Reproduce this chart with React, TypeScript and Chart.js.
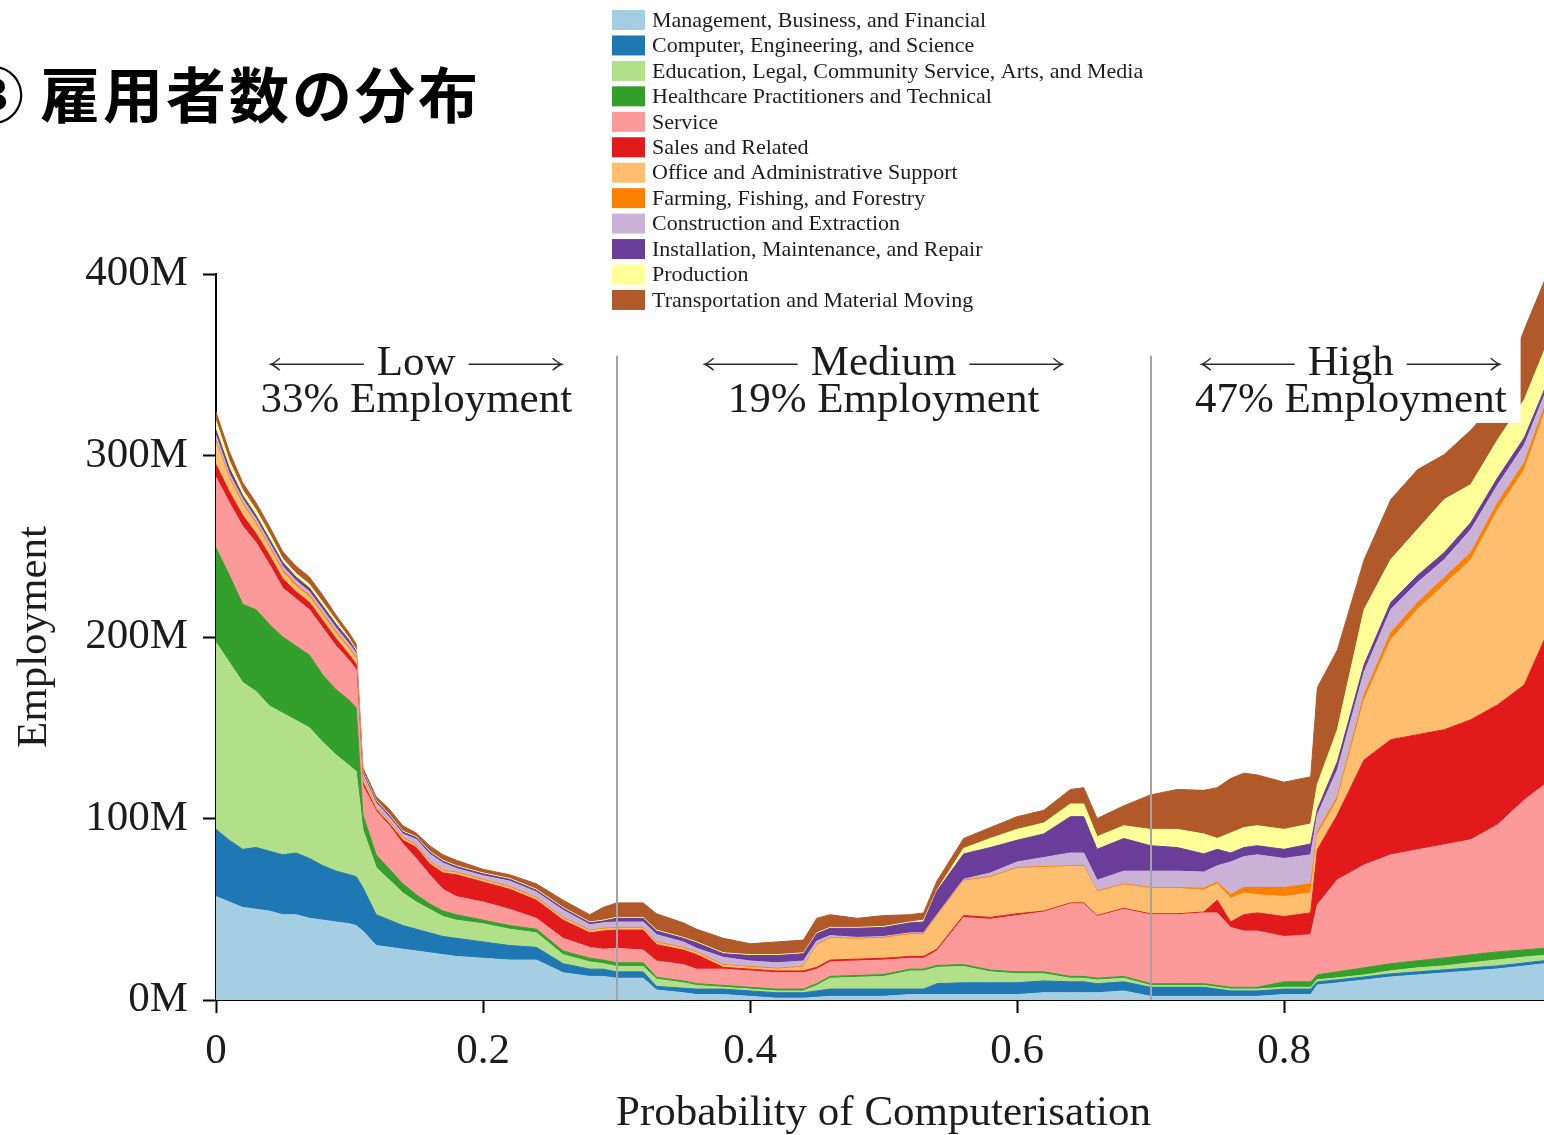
import React, { useEffect, useRef } from 'react';
import { Chart, registerables } from 'chart.js';

Chart.register(...registerables);

// ---------- data (employment in millions, by probability of computerisation) ----------
const PROB = [0, 0.01, 0.02, 0.03, 0.04, 0.05, 0.06, 0.07, 0.08, 0.09, 0.10, 0.105, 0.11, 0.12, 0.13, 0.14, 0.15, 0.16, 0.17, 0.18, 0.20, 0.22, 0.24, 0.26, 0.28, 0.29, 0.30, 0.32, 0.33, 0.35, 0.36, 0.38, 0.40, 0.42, 0.44, 0.45, 0.46, 0.48, 0.50, 0.52, 0.53, 0.54, 0.56, 0.58, 0.60, 0.62, 0.64, 0.65, 0.66, 0.68, 0.70, 0.72, 0.74, 0.75, 0.76, 0.77, 0.78, 0.80, 0.82, 0.825, 0.84, 0.86, 0.88, 0.90, 0.92, 0.94, 0.96, 0.98, 1.0];

const MANAGEMENT = [57, 54, 51, 50, 49, 47, 47, 45, 44, 43, 42, 41, 38, 30, 29, 28, 27, 26, 25, 24, 23, 22, 22, 15, 13, 13, 12, 12, 5.5, 4, 3, 3, 2, 1, 1, 1.5, 2, 2, 2, 3, 3, 3, 3, 3, 3, 4, 4, 4, 4, 5, 2, 2, 2, 2, 2, 2, 2, 3, 3, 8.3, 9.4, 11, 12.7, 13.8, 14.9, 16, 17.1, 18.7, 20.4];
const COMPUTER = [37, 34, 32, 34, 33, 33, 34, 33, 30, 28, 27, 27, 24, 17, 15, 13, 12, 11, 10, 10, 9, 8, 7, 5, 4, 4, 3.5, 3.5, 2, 2.5, 3, 3, 3, 3, 3, 3.5, 4, 4, 4, 3, 3, 6, 6.5, 6.5, 6.5, 6.5, 6, 6, 5, 5, 5, 5, 5, 4, 3, 3, 3, 3, 3, 1.7, 1.7, 1.7, 1.7, 1.7, 1.7, 1.7, 1.7, 1.7, 1.7];
const EDUCATION = [103, 98, 92, 86, 80, 78, 73, 72, 68, 64, 60, 58, 32, 26, 22, 18, 15, 13, 11, 10, 10, 9, 8, 5, 4, 3, 3, 3, 4, 3, 2, 1, 1, 1, 1, 3, 6, 6.5, 7, 10, 10, 9, 9, 6, 5, 4, 2, 2, 2, 2, 1, 1, 1, 1, 1, 1, 1, 1, 1, 1.1, 1.1, 1.1, 1.7, 2.2, 2.2, 2.8, 3.3, 3.3, 2.8];
const HEALTHCARE = [52, 48, 43, 45, 45, 42, 41, 40, 37, 36, 36, 35, 8, 7, 6, 5, 4, 3, 3, 3, 2, 2, 2, 2, 2, 2, 2, 2, 1, 1, 1, 1, 1, 1, 1, 1, 1, 1, 1, 1, 1, 1, 1, 1, 1, 1, 1, 1, 1, 1, 1, 1, 1, 1, 1, 1, 1, 3, 3, 2.8, 3.3, 3.9, 3.9, 3.9, 4.4, 4.4, 4.4, 3.9, 3.9];
const SERVICE = [39, 40, 43, 37, 33, 27, 26, 25, 26, 24, 22, 21, 16, 24, 24, 22, 20, 16, 12, 10, 10, 9, 6, 7, 6, 6, 8, 7, 9, 9, 8, 9, 9, 9, 9, 8, 8, 8, 8, 6, 6, 8, 26, 28, 31, 33, 40, 40, 34, 37, 38, 38, 39, 40, 33, 31, 31, 25, 26, 38.6, 50.7, 56.7, 60, 61.2, 62.3, 63.4, 70, 82.6, 92.6];
const SALES = [7, 6, 6, 5, 5, 5, 4, 4, 4, 4, 3, 3, 2, 1, 1, 2, 6, 6, 9, 12, 11, 11, 10, 10, 8, 10, 10, 11, 9, 8, 8, 1, 1, 1, 1, 1, 1, 1, 1, 1, 1, 1, 1, 1, 1, 0.5, 0.5, 0.5, 0.5, 0.5, 0.5, 0.5, 0.5, 7, 3, 9, 10, 11, 12, 30.3, 35.8, 57.9, 63.4, 63.4, 63.4, 66.1, 66.1, 63.4, 85.4];
const OFFICE = [12, 7, 6, 5, 4, 4, 3, 3, 3, 3, 3, 3, 2, 1, 1, 1, 1, 1, 1, 1, 1, 1, 1, 1, 1, 1, 1, 1, 1, 1, 1, 1, 1, 1, 2, 12, 12, 11, 11, 12, 12, 18, 19, 22, 25, 24, 20, 20, 13, 13, 14, 14, 12, 9, 13, 12, 10, 11, 11, 8.3, 8.3, 33, 55.1, 68.9, 79.9, 88.2, 107.4, 118.5, 127];
const FARMING = [1, 1, 1, 1, 1, 1, 1, 1, 1, 1, 1, 1, 0.5, 0.5, 0.5, 0.5, 0.5, 0.5, 0.5, 0.5, 0.5, 0.5, 0.5, 0.5, 0.5, 0.5, 0.5, 0.5, 0.5, 0.5, 0.5, 0.5, 0.5, 0.5, 0.5, 0.5, 0.5, 0.5, 0.5, 0.5, 0.5, 0.5, 0.5, 0.5, 0.5, 0.5, 0.5, 0.5, 0.5, 0.5, 0.5, 0.5, 1, 1, 2, 3, 4, 5, 5, 1.7, 1.7, 2.8, 3.9, 3.9, 3.9, 3.9, 3.9, 3.9, 2.8];
const CONSTRUCTION = [3, 2, 2, 2, 2, 2, 2, 2, 2, 2, 2, 2, 2, 2, 2, 2, 3, 4, 4, 2, 2, 3, 3, 4, 3, 3, 3, 3, 4, 3, 2, 4, 3, 3, 3, 2, 1, 0.5, 0.5, 0.5, 0.5, 0.5, 0.5, 2, 3, 5, 7, 7, 6, 7, 9, 9, 9, 9, 18, 17, 18, 16, 16, 9.4, 14.9, 12.7, 12.7, 11, 9.9, 12.7, 9.9, 9.9, 5.5];
const INSTALLATION = [3, 3, 2, 2, 2, 2, 2, 2, 2, 2, 2, 1, 1, 1, 1, 1, 1, 1, 1, 1, 1, 1, 1, 1, 1, 1, 2, 2, 2, 2, 3, 2, 3, 4, 4, 4, 4, 5, 5, 5.5, 6, 13, 14, 14, 12, 13, 20, 20, 17, 18, 14, 13, 10, 9, 5, 5, 5, 5, 6, 2.8, 4.4, 3.9, 3.9, 3.9, 3.9, 3.9, 3.9, 3.9, 2.8];
const PRODUCTION = [5, 4, 3, 3, 3, 2, 2, 2, 2, 2, 1, 1, 0.5, 0.5, 0.5, 0.5, 0.5, 0.5, 0.5, 0.5, 0.5, 0.5, 0.5, 0.5, 0.5, 0.5, 0.5, 0.5, 0.5, 0.5, 0.5, 0.5, 0.5, 0.5, 0.5, 0.5, 0.5, 0.5, 0.5, 0.5, 1, 0.5, 3, 5, 6, 6, 7, 7, 7, 7, 9, 10, 11, 6, 11, 11, 11, 11, 11, 13.8, 17.6, 30.3, 23.7, 25.3, 29.2, 20.9, 20.9, 20.9, 22];
const TRANSPORTATION = [5, 5, 4, 4, 4, 4, 4, 4, 4, 3, 3, 3, 2, 2, 3, 3, 2, 3, 3, 3, 2, 2, 3, 4, 4, 7, 8, 8, 9, 8, 7, 8, 6, 7, 7, 8, 7, 5, 6, 4, 4, 5, 5.5, 6, 7, 7, 8, 9, 10, 11, 19, 22, 24, 28, 30, 30, 28, 26, 26, 53.4, 44, 27.5, 33, 33, 24.8, 30, 22, 38.6, 38];

const SERIES_LABELS = [
  'Management, Business, and Financial',
  'Computer, Engineering, and Science',
  'Education, Legal, Community Service, Arts, and Media',
  'Healthcare Practitioners and Technical',
  'Service',
  'Sales and Related',
  'Office and Administrative Support',
  'Farming, Fishing, and Forestry',
  'Construction and Extraction',
  'Installation, Maintenance, and Repair',
  'Production',
  'Transportation and Material Moving',
];
const SERIES_COLORS = ['#a6cee3', '#1f78b4', '#b2df8a', '#33a02c', '#fb9a99', '#e31a1c', '#fdbf6f', '#ff7f00', '#cab2d6', '#6a3d9a', '#ffff99', '#b15928'];

const X_TICK_LABELS = ['0', '0.2', '0.4', '0.6', '0.8', '1'];
const Y_TICK_LABELS = ['0M', '100M', '200M', '300M', '400M'];
const X_TITLE = 'Probability of Computerisation';
const Y_TITLE = 'Employment';

const REGION_NAMES = ['Low', 'Medium', 'High'];
const REGION_SHARES = ['33% Employment', '19% Employment', '47% Employment'];
const REGION_CENTERS = [0.15, 0.5, 0.85];
const REGION_BOUNDS = [0.3, 0.7];
const BOUND_TOP = 355;

const TITLE_MARK = '③';
const TITLE_TEXT = '雇用者数の分布';

// ---------- layout ----------
const CANVAS_W = 1600;
const CANVAS_H = 1135;
const SERIF = '"Liberation Serif", "Times New Roman", serif';
const TEXT_COLOR = '#1c1c1c';

const overlayPlugin = {
  id: 'overlay',
  afterDatasetsDraw(chart: any) {
    const { ctx, scales } = chart;
    const xs = scales.x;
    const ys = scales.y;
    ctx.save();
    // region boundaries
    ctx.strokeStyle = '#a3a3a3';
    ctx.lineWidth = 2;
    for (const b of REGION_BOUNDS) {
      const px = Math.round(xs.getPixelForValue(b));
      ctx.beginPath();
      ctx.moveTo(px, ys.getPixelForValue(0));
      ctx.lineTo(px, ys.getPixelForValue(BOUND_TOP));
      ctx.stroke();
    }
    // region labels
    ctx.font = `43px ${SERIF}`;
    ctx.textBaseline = 'alphabetic';
    ctx.textAlign = 'center';
    const base1 = ys.getPixelForValue(344.5);
    const base2 = ys.getPixelForValue(324);
    REGION_NAMES.forEach((name, i) => {
      const cx = xs.getPixelForValue(REGION_CENTERS[i]);
      const w2 = ctx.measureText(REGION_SHARES[i]).width;
      ctx.fillStyle = '#ffffff';
      ctx.fillRect(cx - w2 / 2 - 10, base1 - 37, w2 + 24, base2 - base1 + 48);
      ctx.fillStyle = TEXT_COLOR;
      ctx.fillText(name, cx, base1);
      ctx.fillText(REGION_SHARES[i], cx, base2);
      const w1 = ctx.measureText(name).width;
      const ay = base1 - 10.5;
      const gap = 13;
      const len = 93;
      ctx.strokeStyle = '#2a2a2a';
      ctx.lineWidth = 1.5;
      // left arrow
      const l1 = cx - w1 / 2 - gap;
      const l0 = l1 - len;
      ctx.beginPath();
      ctx.moveTo(l0, ay);
      ctx.lineTo(l1, ay);
      ctx.moveTo(l0 + 9, ay - 6);
      ctx.quadraticCurveTo(l0 + 3, ay - 1, l0, ay);
      ctx.quadraticCurveTo(l0 + 3, ay + 1, l0 + 9, ay + 6);
      // right arrow
      const r0 = cx + w1 / 2 + gap;
      const r1 = r0 + len;
      ctx.moveTo(r0, ay);
      ctx.lineTo(r1, ay);
      ctx.moveTo(r1 - 9, ay - 6);
      ctx.quadraticCurveTo(r1 - 3, ay - 1, r1, ay);
      ctx.quadraticCurveTo(r1 - 3, ay + 1, r1 - 9, ay + 6);
      ctx.stroke();
    });
    ctx.restore();
  },
  afterDraw(chart: any) {
    const { ctx } = chart;
    ctx.save();
    ctx.font = `22px ${SERIF}`;
    ctx.textBaseline = 'middle';
    ctx.textAlign = 'left';
    chart.data.datasets.forEach((ds: any, i: number) => {
      const cy = 20 + i * 25.45;
      ctx.fillStyle = ds.backgroundColor;
      ctx.fillRect(612, cy - 10, 33, 20);
      ctx.fillStyle = TEXT_COLOR;
      ctx.fillText(ds.label, 652, cy + 1);
    });
    ctx.restore();
  },
};

export default function App() {
  const canvasRef = useRef<HTMLCanvasElement | null>(null);

  useEffect(() => {
    const canvas = canvasRef.current;
    if (!canvas) return;
    const SERIES = [MANAGEMENT, COMPUTER, EDUCATION, HEALTHCARE, SERVICE, SALES, OFFICE, FARMING, CONSTRUCTION, INSTALLATION, PRODUCTION, TRANSPORTATION];
    const datasets = SERIES.map((vals, i) => ({
      label: SERIES_LABELS[i],
      data: PROB.map((p, j) => ({ x: p, y: vals[j] })),
      backgroundColor: SERIES_COLORS[i],
      borderColor: SERIES_COLORS[i],
      borderWidth: 1,
      pointRadius: 0,
      tension: 0,
      fill: i === 0 ? 'origin' : '-1',
    }));

    const tickFont = { family: SERIF, size: 43 };
    const chart = new Chart(canvas, {
      type: 'line',
      data: { datasets } as any,
      options: {
        animation: false,
        responsive: false,
        maintainAspectRatio: false,
        layout: { padding: { top: 274, right: CANVAS_W - 1551, left: 0, bottom: 0 } },
        plugins: { legend: { display: false }, tooltip: { enabled: false } },
        scales: {
          x: {
            type: 'linear',
            min: 0,
            max: 1,
            ticks: {
              stepSize: 0.2,
              font: tickFont,
              color: TEXT_COLOR,
              padding: 13,
              maxRotation: 0,
              autoSkip: false,
              callback: (_v: any, idx: number) => X_TICK_LABELS[idx],
            },
            grid: { drawOnChartArea: false, drawTicks: true, tickLength: 13, tickWidth: 2, tickColor: '#000' },
            border: { display: true, color: '#000', width: 2 },
            title: { display: true, text: X_TITLE, font: tickFont, color: TEXT_COLOR, padding: { top: 0, bottom: -5 } },
            afterFit: (s: any) => { s.height = 135; },
          },
          y: {
            stacked: true,
            min: 0,
            max: 400,
            ticks: {
              stepSize: 100,
              font: tickFont,
              color: TEXT_COLOR,
              padding: 15,
              callback: (_v: any, idx: number) => Y_TICK_LABELS[idx],
            },
            grid: { drawOnChartArea: false, drawTicks: true, tickLength: 13, tickWidth: 2, tickColor: '#000' },
            border: { display: true, color: '#000', width: 2 },
            title: { display: true, text: Y_TITLE, font: tickFont, color: TEXT_COLOR, padding: { top: 9, bottom: 0 } },
            afterFit: (s: any) => { s.width = 216; },
          },
        },
      } as any,
      plugins: [overlayPlugin],
    });
    return () => chart.destroy();
  }, []);

  return (
    <div style={{ position: 'fixed', left: 0, top: 0, width: 1544, height: 1135, overflow: 'hidden', background: '#ffffff' }}>
      <canvas ref={canvasRef} width={CANVAS_W} height={CANVAS_H} style={{ position: 'absolute', left: 0, top: 0 }} />
      <div style={{ position: 'absolute', left: -36, top: 62, fontFamily: '"Noto Sans CJK JP", sans-serif', fontWeight: 700, fontSize: 60, lineHeight: '60px', color: '#000', whiteSpace: 'nowrap' }}>
        {TITLE_MARK}
      </div>
      <div style={{ position: 'absolute', left: 40, top: 62, fontFamily: '"Noto Sans CJK JP", sans-serif', fontWeight: 700, fontSize: 60, lineHeight: '60px', letterSpacing: 3, color: '#000', whiteSpace: 'nowrap' }}>
        {TITLE_TEXT}
      </div>
    </div>
  );
}
